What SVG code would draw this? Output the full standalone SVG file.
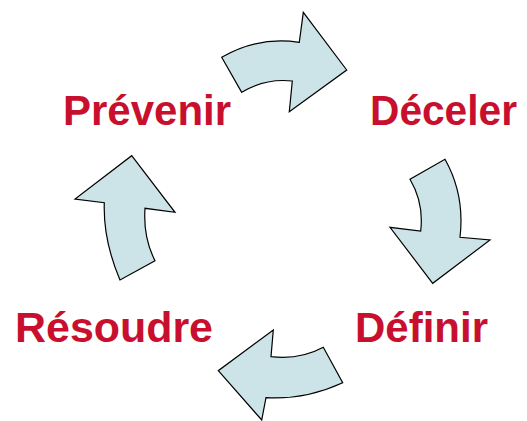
<svg xmlns="http://www.w3.org/2000/svg" width="527" height="421" viewBox="0 0 527 421">
<style>
.lbl{font-family:"Liberation Sans",Arial,sans-serif;font-weight:bold;font-size:42px;fill:#C8102E}
.arr{fill:#CCE3E7;stroke:#000;stroke-width:1.2;stroke-linejoin:miter}
</style>
<rect width="527" height="421" fill="#fff"/>
<g id="connectors">
<path id="arrow-top" class="arr" d="M221.7,57.3 Q258,36 299.3,42.3 L303.3,12.3 L346.7,70 L289.3,111.7 L292.3,81 Q265,78 241.7,92.3 Z"/>
<path id="arrow-right" class="arr" d="M445,159.3 Q465,195 460,237.3 L490,240 L432.7,283.3 L390,227.3 L420.7,231 Q424,203 410,179.3 Z"/>
<path id="arrow-bottom" class="arr" d="M342.7,382.7 Q305,400 266,397.7 L261.7,420 L218.3,370.7 L273.3,330 L271,356.7 Q300,360 323.3,347.3 Z"/>
<path id="arrow-left" class="arr" d="M120,280 Q103,240 104.3,202.7 L75,199 L131.7,155.7 L175,212.3 L145,208.3 Q143,237 155,260.7 Z"/>
</g>
<g id="node-prevenir"><text class="lbl" x="63" y="125">Prévenir</text></g>
<g id="node-deceler"><text class="lbl" x="370" y="125" textLength="147" lengthAdjust="spacingAndGlyphs">Déceler</text></g>
<g id="node-definir"><text class="lbl" x="355" y="341.5">Définir</text></g>
<g id="node-resoudre"><text class="lbl" x="15" y="341.5" textLength="198" lengthAdjust="spacingAndGlyphs">Résoudre</text></g>
</svg>
